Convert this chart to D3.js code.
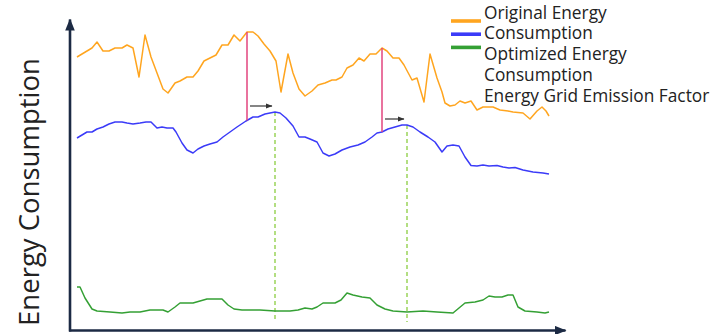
<!DOCTYPE html>
<html><head><meta charset="utf-8">
<script src="https://cdn.jsdelivr.net/npm/d3@7"></script>
<style>html,body{margin:0;padding:0;background:#fff;} svg{display:block;}</style>
</head><body>
<svg id="chart" width="722" height="334"></svg>
<script>
// time step (t) and energy value (v)
const originalT = [0,15,20,26,32,38,45,50,56,62,68,74,80,86,91,98,103,110,116,121,127,133,139,145,151,157,163,170,176,181,187,193,199,204,211,216,222,228,235,241,248,255,259,265,270,276,282,287,293,299,305,310,316,322,327,335,340,347,353,360,365,368,373,378,383,388,394,400,406,416,423,431,436,446,453,460,465,469,472];
const originalV = [273,282,288,279,279,282,282,285,282,253,295,273,257,241,237,247,249,253,253,259,269,272,275,285,285,295,289,298,298,294,286,279,269,238,276,257,241,234,239,245,247,250,250,253,262,265,272,269,276,276,282,279,272,272,265,250,252,228,276,252,238,227,224,225,229,227,229,220,223,223,220,219,218,217,211,219,223,219,214];
const optimizedT = [0,5,10,15,20,26,32,38,45,50,56,63,69,74,80,85,90,96,99,105,110,116,121,127,133,140,146,153,160,169,176,181,188,193,198,203,209,216,222,228,233,240,246,252,258,265,273,281,288,295,300,305,311,318,325,330,336,343,351,358,365,370,376,382,388,394,400,406,412,420,426,432,438,446,456,466,472];
const optimizedV = [192,195,198,198,201,203,206,208,208,207,206,207,208,208,202,203,202,202,198,187,180,177,181,184,186,188,193,198,203,209,213,213,216,217,218,217,212,204,193,193,191,188,177,174,176,180,183,185,188,193,197,198,201,203,205,205,203,198,193,188,178,184,185,184,173,164.5,164,165,164,164.5,163,162,162.5,160,158,157,156];
const emissionT = [0,3,8,15,20,33,45,53,63,73,86,91,98,103,109,116,123,130,138,145,151,157,165,183,198,213,221,228,235,240,246,253,258,264,270,276,285,293,300,308,316,330,346,360,376,382,388,398,406,412,418,425,431,436,441,448,460,468,472];
const emissionV = [43,43,32,21,19,18,17,18,18,20,20,18,23,27,27,27,29,31,31,31,25,21,20,20,19,19,20,22,21,23,27,27,27,30,37,35,33,32,25,21,19,18,19,18,17,22,27,28,30,34,33,33,35,35,23,19,18,17,18];
// shift annotations: original peak time -> optimized peak time
const shiftFrom = [170, 305];
const shiftTo = [198, 330];
const legendLabels = ["Original Energy", "Consumption", "Optimized Energy", "Consumption", "Energy Grid Emission Factor"];
const seriesNames = ["Original Energy Consumption", "Optimized Energy Consumption", "Energy Grid Emission Factor"];
const colors = ["#ffa51f", "#3b3bf8", "#34a034"];
const yTitle = "Energy Consumption";

const svg = d3.select("#chart");
const x = d3.scaleLinear().domain([0, 472]).range([77, 549]);
const y = d3.scaleLinear().domain([0, 300]).range([330, 30]);
const axisColor = "#1c2a44";

const defs = svg.append("defs");
defs.append("marker").attr("id","axArrow").attr("markerUnits","userSpaceOnUse")
  .attr("viewBox","0 -5 12 10").attr("refX",11).attr("refY",0)
  .attr("markerWidth",12).attr("markerHeight",10).attr("orient","auto")
  .append("path").attr("d","M0,-4.8L12,0L0,4.8Z").attr("fill",axisColor);
defs.append("marker").attr("id","smArrow").attr("markerUnits","userSpaceOnUse")
  .attr("viewBox","0 -3 7 6").attr("refX",6.5).attr("refY",0)
  .attr("markerWidth",7).attr("markerHeight",6).attr("orient","auto")
  .append("path").attr("d","M0,-2.6L7,0L0,2.6Z").attr("fill","#333");

// axes (no ticks, arrowed)
const xAxisScale = d3.scaleLinear().domain([0,1]).range([68.5, 565]);
const yAxisScale = d3.scaleLinear().domain([0,1]).range([331, 19]);
const gx = svg.append("g").attr("transform","translate(0,330)")
  .call(d3.axisBottom(xAxisScale).ticks(0).tickSizeOuter(0));
const gy = svg.append("g").attr("transform","translate(69.5,0)")
  .call(d3.axisLeft(yAxisScale).ticks(0).tickSizeOuter(0));
[gx, gy].forEach(g => g.select(".domain").attr("stroke", axisColor).attr("stroke-width", 2.6)
  .attr("marker-end","url(#axArrow)"));

const line = d3.line().x(d => x(d[0])).y(d => y(d[1]));
const interp = (T, V, t) => { for (let i=1;i<T.length;i++){ if (t<=T[i]) { const f=(t-T[i-1])/(T[i]-T[i-1]); return V[i-1]+f*(V[i]-V[i-1]); } } return V[V.length-1]; };

// dashed green markers at optimized peaks
shiftTo.forEach(t => {
  svg.append("line").attr("x1", x(t)).attr("x2", x(t))
    .attr("y1", y(interp(optimizedT, optimizedV, t))).attr("y2", y(8))
    .attr("stroke","#9bd45a").attr("stroke-width",1.5).attr("stroke-dasharray","4,3");
});

const series = [[originalT, originalV], [optimizedT, optimizedV], [emissionT, emissionV]];
series.forEach((s, i) => {
  svg.append("path").datum(s[0].map((t, j) => [t, s[1][j]]))
    .attr("fill","none").attr("stroke", colors[i]).attr("stroke-width", 1.5)
    .attr("stroke-linejoin","round").attr("d", line);
});

// pink drop lines and shift arrows
shiftFrom.forEach((t, i) => {
  const yo = interp(originalT, originalV, t), yb = interp(optimizedT, optimizedV, t);
  svg.append("line").attr("x1", x(t)).attr("x2", x(t)).attr("y1", y(yo)).attr("y2", y(yb))
    .attr("stroke","#e2457e").attr("stroke-width",1.5);
  const ay = interp(optimizedT, optimizedV, shiftTo[i]) + 6;
  svg.append("line").attr("x1", x(t) + 3).attr("x2", x(shiftTo[i]) - 3)
    .attr("y1", y(ay)).attr("y2", y(ay))
    .attr("stroke","#333").attr("stroke-width",1.2).attr("marker-end","url(#smArrow)");
});

// legend
const lg = svg.append("g");
colors.forEach((c, i) => {
  lg.append("line").attr("x1",451).attr("x2",481).attr("y1",21 + i*13.2).attr("y2",21 + i*13.2)
    .attr("stroke", c).attr("stroke-width",3.6);
});
legendLabels.forEach((t, i) => {
  lg.append("text").attr("x",484).attr("y",18.5 + i*20.8).text(t)
    .attr("font-family","'Open Sans', sans-serif").attr("font-size",17.3).attr("fill","#222");
});

// y title
svg.append("text").attr("transform","translate(38.5,192) rotate(-90)")
  .attr("text-anchor","middle").attr("font-family","'Open Sans', sans-serif")
  .attr("font-size",27.5).attr("fill","#222").text(yTitle);
</script>
</body></html>
